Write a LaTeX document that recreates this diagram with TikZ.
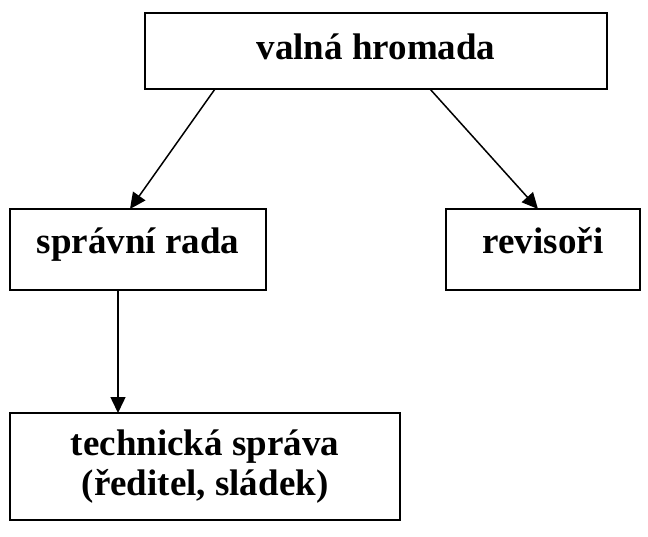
\documentclass[tikz,border=0pt]{standalone}
\usepackage{fontspec}
\setmainfont{Liberation Serif}
\usetikzlibrary{arrows.meta,positioning}

\begin{document}
\begin{tikzpicture}[
x=1pt, y=1pt,
every node/.style={font=\fontsize{37}{40}\selectfont\bfseries},
orgbox/.style={draw, line width=1.9pt, inner sep=0pt, outer sep=0pt, align=center, anchor=north west},
arr/.style={-{Triangle[length=16pt,width=15pt]}, line width=1.5pt}
]
\useasboundingbox (0,0) rectangle (648,-536);

% top box
\node[orgbox, minimum width=462pt, text height=46pt, text depth=30pt] (valna) at (145,-13) {valná hromada};

% second row
\node[orgbox, minimum width=256pt, text height=44pt, text depth=37pt] (spravni) at (10,-209) {správní rada};
\node[orgbox, minimum width=194pt, text height=44pt, text depth=37pt] (revisori) at (446,-209) {revisoři};

% bottom box
\node[orgbox, minimum width=390pt, minimum height=107pt] (technicka) at (10,-413) {technická správa\\(ředitel, sládek)};

\draw[arr] ([xshift=70pt]valna.south west) -- ([xshift=120pt]spravni.north west);
\draw[arr] ([xshift=285pt]valna.south west) -- ([xshift=92pt]revisori.north west);
\draw[arr] ([xshift=108pt]spravni.south west) -- ([xshift=108pt]technicka.north west);

\end{tikzpicture}
\end{document}
